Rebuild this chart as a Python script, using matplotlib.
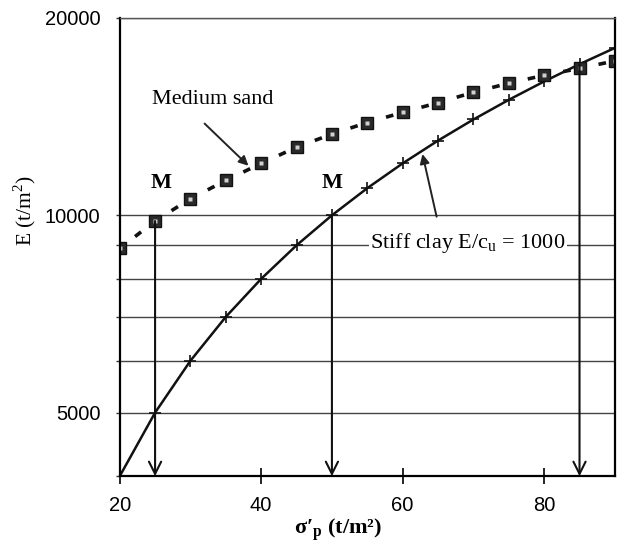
import matplotlib.pyplot as plt
from matplotlib.ticker import FixedLocator, NullLocator

# values
sigma_p = [20, 25, 30, 35, 40, 45, 50, 55, 60, 65, 70, 75, 80, 85, 90]
e_clay = [4000, 5000, 6000, 7000, 8000, 9000, 10000, 11000, 12000,
          13000, 14000, 15000, 16000, 17000, 18000]
e_sand = [8900, 9800, 10600, 11300, 12000, 12700, 13300, 13850, 14350,
          14850, 15400, 15900, 16350, 16750, 17200]

y_ticks = [4000, 5000, 6000, 7000, 8000, 9000, 10000, 20000]
y_labels = ["", "5000", "", "", "", "", "10000", "20000"]
x_ticks = [20, 40, 60, 80]

# drop lines: (x, start E)
drops = [(25, 9800), (50, 10000), (85, 17000)]

serif = "Liberation Serif"
sans = "Liberation Sans"
plt.rcParams["lines.scale_dashes"] = False

fig = plt.figure(figsize=(6.3, 5.43), dpi=100)
ax = fig.add_axes([0.19, 0.123, 0.786, 0.844])
ax.set_yscale("log")
ax.set_xlim(20, 90)
ax.set_ylim(4000, 20000)

ax.yaxis.set_major_locator(FixedLocator(y_ticks))
ax.yaxis.set_minor_locator(NullLocator())
ax.set_yticklabels(y_labels, fontfamily=sans, fontsize=14.5)
ax.set_xticks(x_ticks)
ax.set_xticklabels([str(v) for v in x_ticks], fontfamily=sans, fontsize=14.5)
ax.tick_params(axis="y", length=3, width=1, color="#333333", pad=11)
ax.tick_params(axis="x", direction="inout", length=12, width=1.2, pad=8)

ax.grid(axis="y", color="#444444", lw=1.0)
ax.set_axisbelow(True)

for side in ["left", "right", "bottom"]:
    ax.spines[side].set_color("black")
    ax.spines[side].set_linewidth(1.6)
ax.spines["top"].set_color("#555555")
ax.spines["top"].set_linewidth(1.0)

# stiff clay curve
ax.plot(sigma_p, e_clay, color="#111111", lw=1.8, marker="+", ms=8, mew=1.2)

# medium sand: one short dash between each pair of markers
gap, dash = 14, 5.5
for i in range(len(sigma_p) - 1):
    ax.plot(sigma_p[i:i + 2], e_sand[i:i + 2], color="#111111", lw=2.6,
            solid_capstyle="butt", dash_capstyle="butt",
            linestyle=(dash + 200 - gap, (dash, 200)))
ax.plot(sigma_p, e_sand, ls="none", marker="s", ms=8.5, mfc="#2a2a2a",
        mec="#111111", mew=1.0)
ax.plot(sigma_p, e_sand, ls="none", marker="s", ms=3.5, mfc="#d0d0d0",
        mec="none")

# drop lines with open arrow heads
for x0, e0 in drops:
    ax.annotate("", xy=(x0, 4000), xytext=(x0, e0),
                arrowprops=dict(arrowstyle="->", color="#111111", lw=1.5,
                                mutation_scale=22, shrinkA=0, shrinkB=0))

ax.text(24.5, 15000, "Medium sand", fontfamily=serif, fontsize=16,
        ha="left", va="center")
ax.annotate("", xy=(38.2, 11900), xytext=(32.0, 13800),
            arrowprops=dict(arrowstyle="-|>", color="#222222", lw=1.4,
                            mutation_scale=14, shrinkA=0, shrinkB=0))

ax.text(24.3, 11200, "M", fontfamily=serif, fontsize=16, fontweight="bold",
        ha="left", va="center")
ax.text(48.5, 11200, "M", fontfamily=serif, fontsize=16, fontweight="bold",
        ha="left", va="center")

ax.text(55.4, 9080, "Stiff clay E/c$_\\mathregular{u}$ = 1000", fontfamily=serif,
        fontsize=16, ha="left", va="center",
        bbox=dict(facecolor="white", edgecolor="none", pad=1))
ax.annotate("", xy=(62.8, 12400), xytext=(64.8, 9950),
            arrowprops=dict(arrowstyle="-|>", color="#222222", lw=1.4,
                            mutation_scale=14, shrinkA=0, shrinkB=0))

ax.set_ylabel("E (t/m$^\\mathregular{2}$)", fontfamily=serif, fontsize=15.5)
ax.yaxis.set_label_coords(-0.165, 0.58)
ax.set_xlabel("σ′$_\\mathregular{p}$ (t/m²)", fontfamily=serif, fontsize=16,
              fontweight="bold")
ax.xaxis.set_label_coords(0.44, -0.088)

fig.savefig("out.png", dpi=100)
plt.close(fig)
